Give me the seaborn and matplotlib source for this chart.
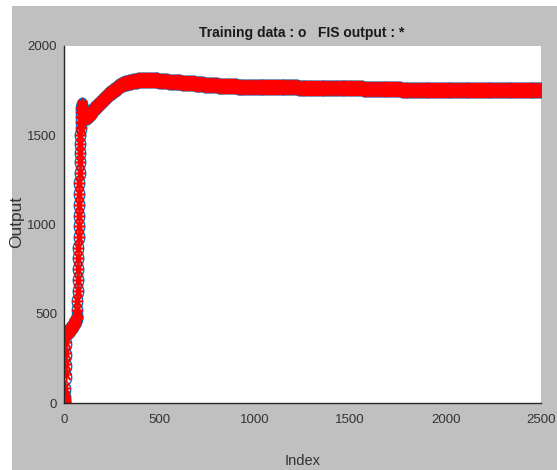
import matplotlib
matplotlib.use("Agg")
import matplotlib.pyplot as plt
import seaborn as sns
import pandas as pd
import numpy as np
from matplotlib.patches import Rectangle
from matplotlib.path import Path

# ---- data (index segments and their values) ----
idx_start = list(range(1, 13))
val_start_train = [0, 0, 0, 5, 15, 35, 80, 145, 210, 267, 330, 385]
val_start_fis = [0, 0, 5, 10, 20, 40, 83, 160, 220, 278, 340, 385]

idx_low = list(range(15, 66, 5))
val_low = [395, 400, 405, 410, 418, 425, 432, 440, 448, 455, 462]

idx_rise = list(range(66, 101))
val_rise = [475, 480, 490, 520, 570, 630, 690, 750, 810, 870, 930, 990, 1050,
            1110, 1170, 1230, 1290, 1350, 1400, 1450, 1500, 1540, 1575, 1605,
            1630, 1650, 1662, 1668, 1665, 1655, 1648, 1640, 1633, 1627, 1622]

idx_dip = list(range(105, 151, 5))
val_dip = [1612, 1606, 1604, 1605, 1608, 1613, 1619, 1626, 1633, 1640]

idx_climb = list(range(160, 601, 10))
val_climb = [1650, 1660, 1670, 1681, 1692, 1703, 1714, 1724, 1734, 1743,
             1752, 1760, 1767, 1774, 1780, 1785, 1790, 1794, 1797, 1800,
             1802, 1804, 1806, 1807, 1808, 1809, 1810, 1810, 1810, 1810,
             1809, 1809, 1808, 1807, 1806, 1805, 1804, 1803, 1802, 1801,
             1800, 1799, 1798, 1797, 1796]

idx_tail = list(range(610, 2501, 10))
val_tail = [1796, 1795,
            1795, 1794, 1793, 1792, 1791, 1790, 1789, 1788, 1787, 1786,
            1785, 1784, 1783, 1782, 1781, 1781, 1780, 1779, 1778, 1778,
            1777, 1777, 1776, 1776, 1775, 1775, 1774, 1774, 1773, 1773,
            1772, 1772, 1772, 1771, 1771, 1771, 1770, 1770, 1770, 1770,
            1769, 1769, 1769, 1769, 1769, 1769, 1769, 1769, 1769, 1769,
            1768, 1768, 1768, 1768, 1768, 1768, 1768, 1768, 1768, 1768,
            1767, 1767, 1767, 1767, 1767, 1767, 1767, 1767, 1767, 1767,
            1766, 1766, 1766, 1766, 1766, 1766, 1766, 1766, 1766, 1766,
            1765, 1765, 1765, 1765, 1765, 1765, 1765, 1765, 1765, 1765,
            1764, 1764, 1764, 1764,
            1757, 1757, 1757, 1757, 1757, 1757, 1757, 1757, 1757, 1757,
            1757, 1757, 1757, 1757, 1757, 1757, 1757, 1757, 1757, 1757,
            1756, 1756, 1756, 1756, 1756, 1756, 1756, 1756, 1756, 1756,
            1756, 1756, 1756, 1756, 1756, 1756, 1756, 1756, 1756, 1756,
            1755, 1755, 1755, 1755, 1755, 1755, 1755, 1755, 1755, 1755,
            1755, 1755, 1755, 1755, 1755, 1755, 1755, 1755, 1755, 1755,
            1754, 1754, 1754, 1754, 1754, 1754, 1754, 1754, 1754, 1754,
            1754, 1754, 1754, 1754, 1754, 1754, 1754, 1754, 1754, 1754,
            1753, 1753, 1753, 1753, 1753, 1753, 1753, 1753, 1753, 1753,
            1753, 1753, 1753, 1753]

x_ticks = [0, 500, 1000, 1500, 2000, 2500]
y_ticks = [0, 500, 1000, 1500, 2000]
title_text = "Training data : o   FIS output : *"
x_label = "Index"
y_label = "Output"

index_values = idx_start + idx_low + idx_rise + idx_dip + idx_climb + idx_tail
common = val_low + val_rise + val_dip + val_climb + val_tail
training = val_start_train + common
fis = val_start_fis + common

df = pd.DataFrame({"Index": index_values, "Training": training, "FIS": fis})

# ---- marker shapes (slightly tall, like the stretched original) ----
sx = 0.72
ast_verts, ast_codes = [], []
for ang in (0, 45, 90, 135):
    dx, dy = np.cos(np.radians(ang)), np.sin(np.radians(ang))
    ast_verts += [(-dx * sx, -dy), (dx * sx, dy)]
    ast_codes += [Path.MOVETO, Path.LINETO]
asterisk_marker = Path(ast_verts, ast_codes)
circ = Path.unit_circle()
ellipse_marker = Path(circ.vertices * np.array([sx, 1.0]), circ.codes)

# ---- styling ----
sns.set_theme(style="white")
plt.rcParams['font.family'] = ['Liberation Sans', 'DejaVu Sans']

W, H = 557, 470
fig = plt.figure(figsize=(W / 100, H / 100), dpi=100, facecolor='white')
fig.patches.append(Rectangle((12 / W, 0), 1 - 12 / W, 1 - 6 / H,
                             transform=fig.transFigure, facecolor='#c0c0c0',
                             edgecolor='none', zorder=-10))

ax = fig.add_axes([64 / W, 67 / H, 477 / W, 357 / H])
ax.set_facecolor('white')

sns.lineplot(data=df, x="Index", y="Training", ax=ax, estimator=None, sort=False,
             linewidth=0, marker=ellipse_marker, markersize=10.5,
             markerfacecolor='none', markeredgecolor='#0072BD',
             markeredgewidth=1.0, color='#0072BD')
sns.lineplot(data=df, x="Index", y="FIS", ax=ax, estimator=None, sort=False,
             linewidth=0, marker=asterisk_marker, markersize=11,
             markerfacecolor='#ff0000', markeredgecolor='#ff0000',
             markeredgewidth=1.6, color='#ff0000')

ax.set_xlim(0, 2500)
ax.set_ylim(0, 2000)
ax.set_xticks(x_ticks)
ax.set_yticks(y_ticks)
ax.set_xticklabels([str(t) for t in x_ticks])
ax.set_yticklabels([str(t) for t in y_ticks])

for s in ['top', 'right']:
    ax.spines[s].set_visible(False)
for s in ['left', 'bottom']:
    ax.spines[s].set_color('#262626')
    ax.spines[s].set_linewidth(1.0)

ax.tick_params(axis='x', direction='in', length=8, width=1, color='#262626',
               labelsize=9.5, labelcolor='#333333', pad=8)
ax.tick_params(axis='y', direction='in', length=4, width=1, color='#262626',
               labelsize=9.5, labelcolor='#333333', pad=5)

ax.set_xlabel(x_label, fontsize=10.5, color='#333333', va='baseline')
ax.xaxis.set_label_coords(0.5, (403 - 465) / 357)
ax.set_ylabel(y_label, fontsize=12.5, color='#333333', va='center', ha='center')
ax.yaxis.set_label_coords((17 - 64) / 477, (403 - 222) / 357)

fig.text(302 / W, 1 - 36.7 / H, title_text, ha='center', va='baseline',
         fontsize=10, fontweight='bold', color='#1a1a1a')

fig.savefig("out.png", dpi=100, facecolor=fig.get_facecolor())
